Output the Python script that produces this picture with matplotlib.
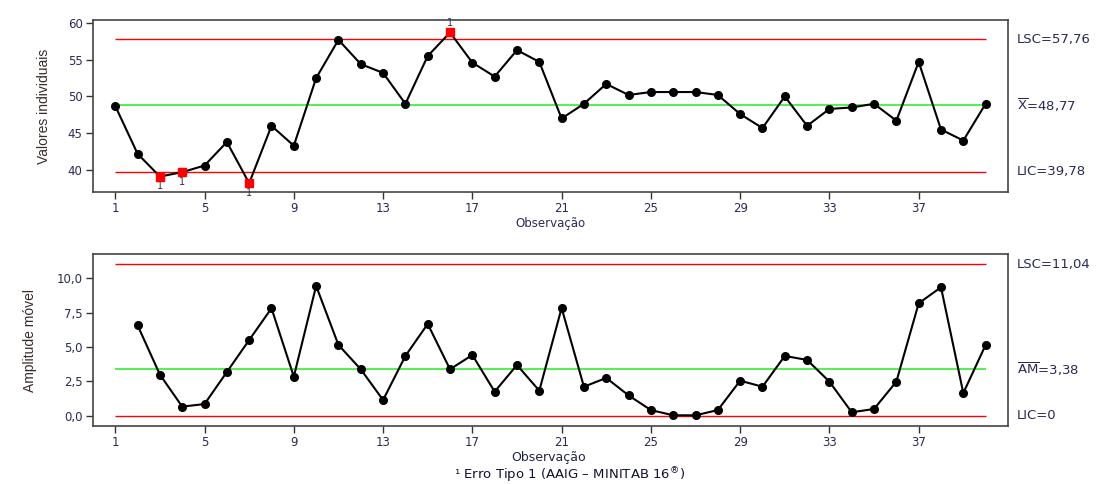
import numpy as np
import matplotlib
matplotlib.use("Agg")
import matplotlib.pyplot as plt
import matplotlib.transforms as mtransforms

# dados
obs = np.arange(1, 41)
valores = [48.7, 42.2, 39.1, 39.7, 40.6, 43.8, 38.2, 46.0, 43.3, 52.5,
           57.7, 54.4, 53.2, 49.0, 55.5, 58.7, 54.6, 52.7, 56.3, 54.7,
           47.0, 49.0, 51.7, 50.2, 50.6, 50.6, 50.6, 50.2, 47.6, 45.7,
           50.0, 46.0, 48.3, 48.5, 49.0, 46.7, 54.7, 45.5, 44.0, 49.0]
obs_mr = np.arange(2, 41)
amplitude = [6.58, 2.99, 0.66, 0.85, 3.18, 5.51, 7.82, 2.84, 9.45, 5.15,
             3.38, 1.14, 4.35, 6.68, 3.38, 4.42, 1.75, 3.69, 1.82, 7.84,
             2.11, 2.75, 1.48, 0.41, 0.03, 0.03, 0.41, 2.55, 2.11, 4.35,
             4.06, 2.48, 0.25, 0.49, 2.48, 8.18, 9.35, 1.65, 5.15]
fora = [3, 4, 7, 16]          # pontos fora de controle (teste 1)
lsc_i, media_i, lic_i = 57.76, 48.77, 39.78
lsc_mr, media_mr, lic_mr = 11.04, 3.38, 0.0
xticks = list(range(1, 41, 4))

txt_col = '#2a2a55'
plt.rcParams['font.family'] = ['DejaVu Sans']

fig = plt.figure(figsize=(11.08, 4.84), dpi=100)
ax1 = fig.add_axes([0.0839, 0.6033, 0.8258, 0.3554])
ax2 = fig.add_axes([0.0839, 0.1198, 0.8258, 0.3554])


def estilo(ax):
    for s in ax.spines.values():
        s.set_color('#444444')
        s.set_linewidth(1.2)
    ax.tick_params(direction='out', length=5, width=1, colors='#333333',
                   labelcolor=txt_col, labelsize=8.5, pad=2.5)
    ax.set_xticks(xticks)
    ax.set_xlim(0, 41)


# --- carta de valores individuais ---
ax1.hlines([lsc_i, lic_i], 1, 40, color='red', lw=1)
ax1.hlines(media_i, 1, 40, color='#33ee33', lw=1.2)
ax1.plot(obs, valores, color='black', lw=1.5, marker='o', ms=5.5, zorder=3)
vf = [valores[i - 1] for i in fora]
ax1.plot(fora, vf, 's', color='red', ms=6, zorder=4)
for i, v in zip(fora, vf):
    if v > media_i:
        ax1.text(i, v + 0.6, '1', ha='center', va='bottom', fontsize=7, color='#3a2a50')
    else:
        ax1.text(i, v - 0.6, '1', ha='center', va='top', fontsize=7, color='#3a2a50')
ax1.set_ylim(37.0, 60.4)
ax1.set_yticks([40, 45, 50, 55, 60])
estilo(ax1)
ax1.set_ylabel('Valores individuais', family=['Liberation Sans Narrow', 'Liberation Sans'],
               fontsize=10, color='#3a2a2a', labelpad=12)
ax1.set_xlabel('Observação', fontsize=8.5, color=txt_col, labelpad=1)
tr1 = mtransforms.blended_transform_factory(ax1.transAxes, ax1.transData)
ax1.text(1.01, lsc_i, 'LSC=57,76', transform=tr1, va='center', fontsize=9.5, color=txt_col)
ax1.text(1.01, media_i, r'$\overline{\mathrm{X}}$=48,77', transform=tr1, va='center',
         fontsize=9.5, color=txt_col)
ax1.text(1.01, lic_i, 'LIC=39,78', transform=tr1, va='center', fontsize=9.5, color=txt_col)

# --- carta de amplitude movel ---
ax2.hlines([lsc_mr, lic_mr], 1, 40, color='red', lw=1)
ax2.hlines(media_mr, 1, 40, color='#33ee33', lw=1.2)
ax2.plot(obs_mr, amplitude, color='black', lw=1.5, marker='o', ms=5.5, zorder=3)
ax2.set_ylim(-0.75, 11.77)
yt = [0, 2.5, 5, 7.5, 10]
ax2.set_yticks(yt)
ax2.set_yticklabels([f'{v:.1f}'.replace('.', ',') for v in yt])
estilo(ax2)
ax2.set_ylabel('Amplitude móvel', family=['Liberation Sans Narrow', 'Liberation Sans'],
               fontsize=10, color='#3a2a2a', labelpad=14)
tr2 = mtransforms.blended_transform_factory(ax2.transAxes, ax2.transData)
ax2.text(1.01, lsc_mr, 'LSC=11,04', transform=tr2, va='center', fontsize=9.5, color=txt_col)
ax2.text(1.01, media_mr, r'$\overline{\mathrm{AM}}$=3,38', transform=tr2, va='center',
         fontsize=9.5, color=txt_col)
ax2.text(1.01, lic_mr, 'LIC=0', transform=tr2, va='center', fontsize=9.5, color=txt_col)

fig.text(0.495, 1 - 457 / 484, 'Observação', ha='center', va='center', fontsize=9,
         color='#222244')
fig.text(0.514, 1 - 475 / 484, r'¹ Erro Tipo 1 (AAIG – MINITAB 16$^{\circledR}$)',
         ha='center', va='center', fontsize=9.5, color='#111133')

fig.savefig('out.png', dpi=100)
